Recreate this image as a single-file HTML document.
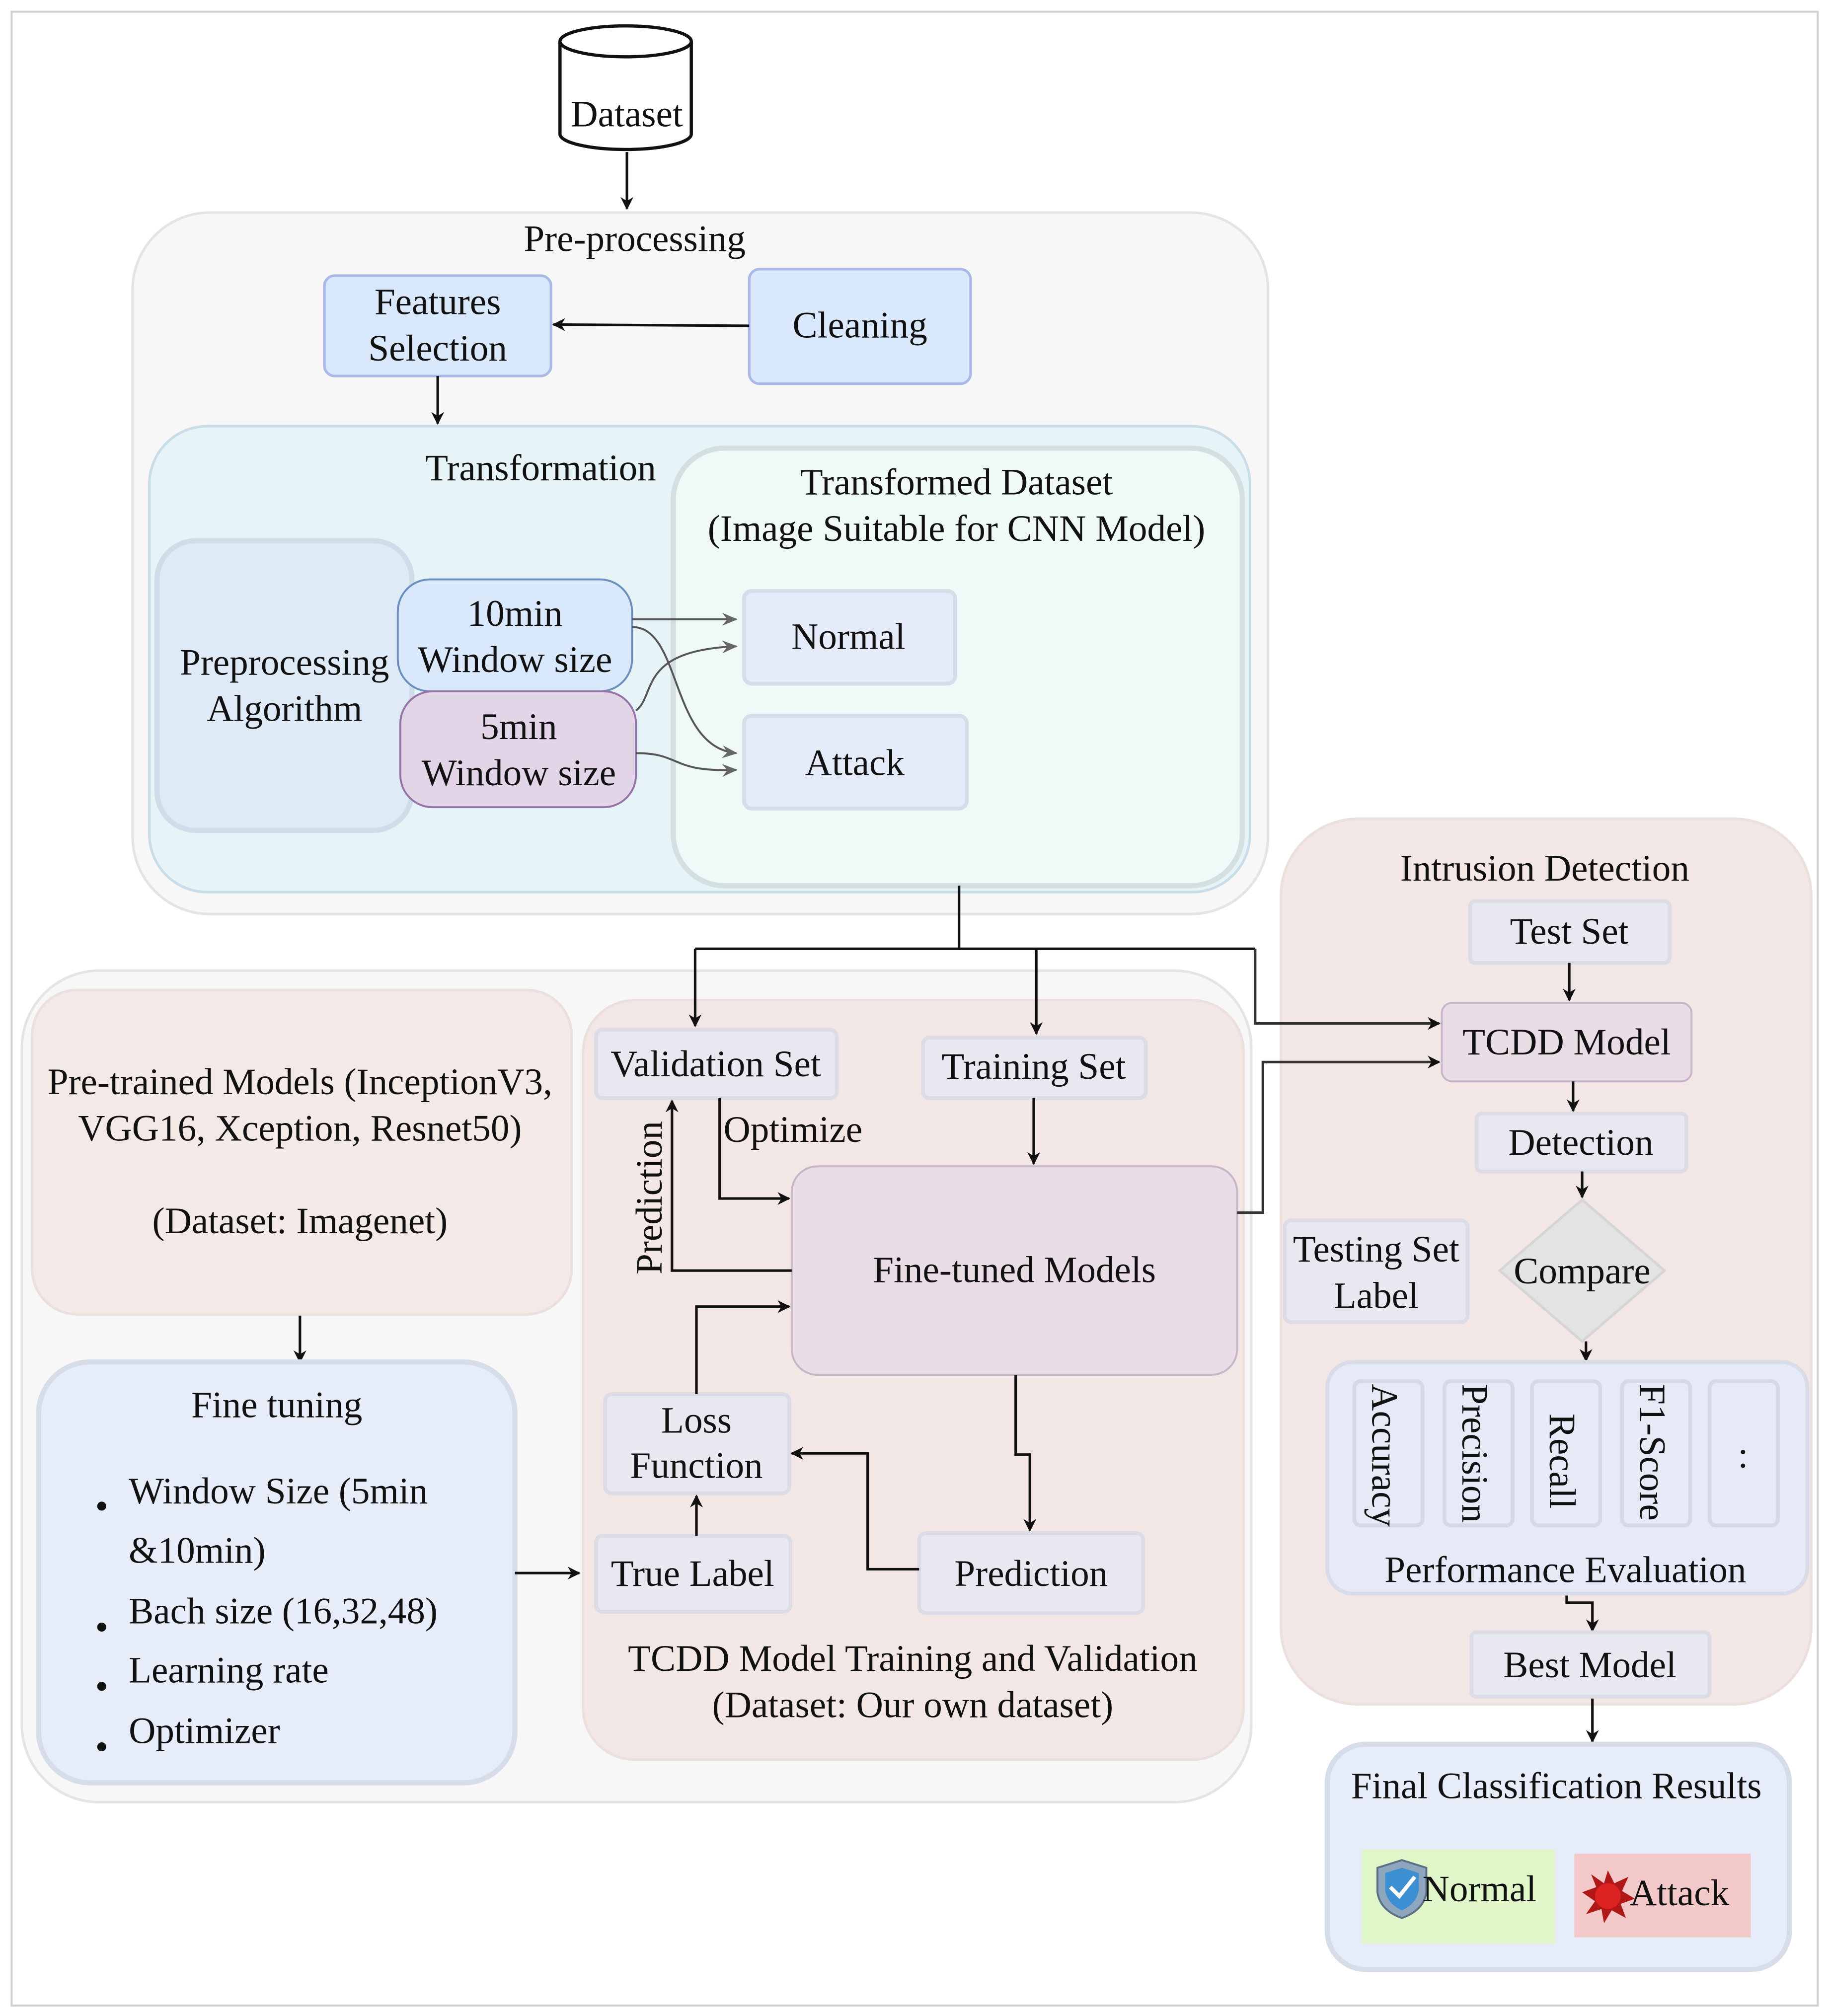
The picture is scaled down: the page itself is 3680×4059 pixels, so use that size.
<!DOCTYPE html>
<html><head><meta charset="utf-8"><style>
html,body{margin:0;padding:0;background:#fff;}
svg{display:block;}
text{font-family:"Liberation Serif",serif;font-size:29px;fill:#111;}
</style></head><body>
<svg width="3680" height="4059" viewBox="0 0 1420 1566" xmlns="http://www.w3.org/2000/svg">
<defs>
<marker id="a" markerWidth="10" markerHeight="10" refX="9" refY="5" orient="auto" markerUnits="userSpaceOnUse"><path d="M0,0 L10,5 L0,10 L3,5 z" fill="#111"/></marker>
<marker id="g" markerWidth="12" markerHeight="10" refX="11" refY="5" orient="auto" markerUnits="userSpaceOnUse"><path d="M0,0 L12,5 L0,10 L4,5 z" fill="#666"/></marker>
</defs>
<rect x="0" y="0" width="1420" height="1566" fill="#fff"/>
<rect x="9" y="9" width="1403" height="1549" fill="none" stroke="#cfcfcf" stroke-width="1.5"/>

<!-- Dataset cylinder -->
<path d="M435,32 L435,104 A51,12 0 0 0 537,104 L537,32" fill="#fff" stroke="#111" stroke-width="2.5"/>
<ellipse cx="486" cy="32" rx="51" ry="12" fill="#fff" stroke="#111" stroke-width="2.5"/>
<text x="487" y="98" text-anchor="middle">Dataset</text>
<line x1="487" y1="118" x2="487" y2="162" stroke="#111" stroke-width="2" marker-end="url(#a)"/>

<!-- Pre-processing -->
<rect x="103" y="165" width="882" height="545" rx="60" fill="#f7f7f7" stroke="#e4e4e4" stroke-width="2"/>
<text x="493" y="195" text-anchor="middle">Pre-processing</text>
<rect x="252" y="214" width="176" height="78" rx="8" fill="#dae8fc" stroke="#a9b8e8" stroke-width="2"/>
<text x="340" y="244" text-anchor="middle">Features</text>
<text x="340" y="280" text-anchor="middle">Selection</text>
<rect x="582" y="209" width="172" height="89" rx="8" fill="#dae8fc" stroke="#a9b8e8" stroke-width="2"/>
<text x="668" y="262" text-anchor="middle">Cleaning</text>
<line x1="582" y1="253" x2="430" y2="252" stroke="#111" stroke-width="2" marker-end="url(#a)"/>
<line x1="340" y1="292" x2="340" y2="329" stroke="#111" stroke-width="2" marker-end="url(#a)"/>

<!-- Transformation -->
<rect x="116" y="331" width="855" height="362" rx="45" fill="#e6f4f7" stroke="#c9dde8" stroke-width="2"/>
<text x="420" y="373" text-anchor="middle">Transformation</text>
<rect x="523" y="348" width="442" height="340" rx="40" fill="#eff9f7" stroke="#d3dfe0" stroke-width="4"/>
<text x="743" y="384" text-anchor="middle">Transformed Dataset</text>
<text x="743" y="420" text-anchor="middle">(Image Suitable for CNN Model)</text>
<rect x="122" y="420" width="198" height="225" rx="30" fill="#dfeaf7" stroke="#d0dce8" stroke-width="4"/>
<text x="221" y="524" text-anchor="middle">Preprocessing</text>
<text x="221" y="560" text-anchor="middle">Algorithm</text>
<rect x="309" y="450" width="182" height="87" rx="25" fill="#dae8fc" stroke="#6c8ebf" stroke-width="1.5"/>
<text x="400" y="486" text-anchor="middle">10min</text>
<text x="400" y="522" text-anchor="middle">Window size</text>
<rect x="311" y="537" width="183" height="90" rx="25" fill="#e1d5e7" stroke="#9673a6" stroke-width="1.5"/>
<text x="403" y="574" text-anchor="middle">5min</text>
<text x="403" y="610" text-anchor="middle">Window size</text>
<rect x="578" y="459" width="164" height="72" rx="6" fill="#e3ecf8" stroke="#d4dde8" stroke-width="3"/>
<text x="659" y="504" text-anchor="middle">Normal</text>
<rect x="578" y="556" width="173" height="72" rx="6" fill="#e3ecf8" stroke="#d4dde8" stroke-width="3"/>
<text x="664" y="602" text-anchor="middle">Attack</text>
<g fill="none" stroke="#555" stroke-width="1.5">
<path d="M491,481 L572,481" marker-end="url(#g)"/>
<path d="M491,487 C530,487 520,580 572,585" marker-end="url(#g)"/>
<path d="M494,552 C510,540 495,505 572,502" marker-end="url(#g)"/>
<path d="M494,585 C530,585 520,600 572,598" marker-end="url(#g)"/>
</g>

<!-- bottom-left container -->
<rect x="17" y="754" width="955" height="646" rx="60" fill="#f7f7f7" stroke="#e4e4e4" stroke-width="2"/>
<rect x="25" y="769" width="419" height="252" rx="35" fill="#f3e9e7" stroke="#ece0de" stroke-width="2"/>
<text x="233" y="850" text-anchor="middle">Pre-trained Models (InceptionV3,</text>
<text x="233" y="886" text-anchor="middle">VGG16, Xception, Resnet50)</text>
<text x="233" y="958" text-anchor="middle">(Dataset: Imagenet)</text>
<line x1="233" y1="1022" x2="233" y2="1058" stroke="#111" stroke-width="2" marker-end="url(#a)"/>
<rect x="30" y="1058" width="370" height="327" rx="40" fill="#e6edf8" stroke="#d6dde8" stroke-width="4"/>
<text x="215" y="1101" text-anchor="middle">Fine tuning</text>
<g>
<circle cx="79" cy="1170" r="3.5" fill="#111"/><text x="100" y="1168">Window Size   (5min</text>
<text x="100" y="1214">&amp;10min)</text>
<circle cx="79" cy="1264" r="3.5" fill="#111"/><text x="100" y="1261">Bach size (16,32,48)</text>
<circle cx="79" cy="1310" r="3.5" fill="#111"/><text x="100" y="1307">Learning rate</text>
<circle cx="79" cy="1357" r="3.5" fill="#111"/><text x="100" y="1354">Optimizer</text>
</g>
<line x1="400" y1="1222" x2="450" y2="1222" stroke="#111" stroke-width="2" marker-end="url(#a)"/>

<!-- TCDD training -->
<rect x="453" y="777" width="513" height="590" rx="40" fill="#f3e7e5" stroke="#ece0de" stroke-width="2"/>
<text x="709" y="1298" text-anchor="middle">TCDD Model Training and Validation</text>
<text x="709" y="1334" text-anchor="middle">(Dataset: Our own dataset)</text>
<rect x="463" y="800" width="187" height="53" rx="5" fill="#e8e8f1" stroke="#dcdce6" stroke-width="3"/>
<text x="556" y="836" text-anchor="middle">Validation Set</text>
<rect x="717" y="806" width="173" height="47" rx="5" fill="#e8e8f1" stroke="#dcdce6" stroke-width="3"/>
<text x="803" y="838" text-anchor="middle">Training Set</text>
<rect x="615" y="906" width="346" height="162" rx="20" fill="#e9dde6" stroke="#c8b5c8" stroke-width="1.5"/>
<text x="788" y="996" text-anchor="middle">Fine-tuned Models</text>
<rect x="470" y="1083" width="143" height="77" rx="5" fill="#e8e8f1" stroke="#dcdce6" stroke-width="3"/>
<text x="541" y="1113" text-anchor="middle">Loss</text>
<text x="541" y="1148" text-anchor="middle">Function</text>
<rect x="463" y="1193" width="151" height="59" rx="5" fill="#e8e8f1" stroke="#dcdce6" stroke-width="3"/>
<text x="538" y="1232" text-anchor="middle">True Label</text>
<rect x="714" y="1191" width="174" height="62" rx="5" fill="#e8e8f1" stroke="#dcdce6" stroke-width="3"/>
<text x="801" y="1232" text-anchor="middle">Prediction</text>
<text x="562" y="887">Optimize</text>
<text transform="translate(514,990) rotate(-90)">Prediction</text>
<g fill="none" stroke="#111" stroke-width="2">
<path d="M803,853 L803,904" marker-end="url(#a)"/>
<path d="M559,853 L559,931 L613,931" marker-end="url(#a)"/>
<path d="M615,987 L522,987 L522,855" marker-end="url(#a)"/>
<path d="M789,1068 L789,1130 L800,1130 L800,1189" marker-end="url(#a)"/>
<path d="M714,1219 L674,1219 L674,1129 L615,1129" marker-end="url(#a)"/>
<path d="M541,1193 L541,1162" marker-end="url(#a)"/>
<path d="M541,1083 L541,1015 L613,1015" marker-end="url(#a)"/>
</g>

<!-- Intrusion detection -->
<rect x="995" y="636" width="412" height="688" rx="60" fill="#f3e7e5" stroke="#ece0de" stroke-width="2"/>
<text x="1200" y="684" text-anchor="middle">Intrusion Detection</text>
<rect x="1142" y="700" width="155" height="48" rx="4" fill="#e8e8f1" stroke="#dcdce6" stroke-width="3"/>
<text x="1219" y="733" text-anchor="middle">Test Set</text>
<rect x="1120" y="779" width="194" height="61" rx="8" fill="#e9dde6" stroke="#c8b5c8" stroke-width="1.5"/>
<text x="1217" y="819" text-anchor="middle">TCDD Model</text>
<rect x="1147" y="865" width="163" height="45" rx="4" fill="#e8e8f1" stroke="#dcdce6" stroke-width="3"/>
<text x="1228" y="897" text-anchor="middle">Detection</text>
<polygon points="1229,932 1293,987 1229,1042 1165,987" fill="#e3e3e3" stroke="#d5d5d5" stroke-width="2"/>
<text x="1229" y="997" text-anchor="middle">Compare</text>
<rect x="998" y="948" width="142" height="79" rx="5" fill="#e8e8f1" stroke="#dcdce6" stroke-width="3"/>
<text x="1069" y="980" text-anchor="middle">Testing Set</text>
<text x="1069" y="1016" text-anchor="middle">Label</text>
<g fill="none" stroke="#111" stroke-width="2">
<path d="M1219,748 L1219,777" marker-end="url(#a)"/>
<path d="M1222,840 L1222,863" marker-end="url(#a)"/>
<path d="M1229,910 L1229,930" marker-end="url(#a)"/>
<path d="M1232,1042 L1232,1057" marker-end="url(#a)"/>
<path d="M1217,1238 L1217,1245 L1237,1245 L1237,1267" marker-end="url(#a)"/>
<path d="M1237,1318 L1237,1353" marker-end="url(#a)"/>
</g>
<rect x="1031" y="1058" width="373" height="180" rx="20" fill="#e6e9f6" stroke="#d8dbe8" stroke-width="3"/>
<g fill="#e6e9f6" stroke="#d5d8e6" stroke-width="3">
<rect x="1052" y="1073" width="53" height="112" rx="5"/>
<rect x="1122" y="1073" width="53" height="112" rx="5"/>
<rect x="1190" y="1073" width="53" height="112" rx="5"/>
<rect x="1260" y="1073" width="53" height="112" rx="5"/>
<rect x="1328" y="1073" width="53" height="112" rx="5"/>
</g>
<text transform="translate(1066,1075) rotate(90)">Accuracy</text>
<text transform="translate(1136,1075) rotate(90)">Precision</text>
<text transform="translate(1204,1098) rotate(90)">Recall</text>
<text transform="translate(1274,1075) rotate(90)">F1-Score</text>
<text x="1354" y="1140" text-anchor="middle">:</text>
<text x="1216" y="1229" text-anchor="middle">Performance Evaluation</text>
<rect x="1143" y="1268" width="185" height="50" rx="4" fill="#e8e8f1" stroke="#dcdce6" stroke-width="3"/>
<text x="1235" y="1303" text-anchor="middle">Best Model</text>

<!-- connectors on top -->
<g fill="none" stroke="#111" stroke-width="2">
<path d="M745,688 L745,737"/>
<path d="M540,737 L975,737"/>
<path d="M540,737 L540,797" marker-end="url(#a)"/>
<path d="M805,737 L805,803" marker-end="url(#a)"/>
<path d="M975,737 L975,795 L1118,795" stroke="#333" marker-end="url(#a)"/>
<path d="M961,942 L981,942 L981,825 L1118,825" stroke="#333" marker-end="url(#a)"/>
</g>

<!-- Final -->
<rect x="1031" y="1355" width="359" height="175" rx="30" fill="#e6edf8" stroke="#d6dde8" stroke-width="4"/>
<text x="1209" y="1397" text-anchor="middle">Final Classification Results</text>
<rect x="1058" y="1437" width="150" height="73" fill="#e0f5c8"/>
<path d="M1089,1445 L1108,1451 L1108,1470 Q1106,1484 1089,1490 Q1072,1484 1070,1470 L1070,1451 z" fill="#8fa6bf" stroke="#5a6f86" stroke-width="1.5"/>
<path d="M1089,1451 L1102,1455 L1102,1469 Q1100,1479 1089,1484 Q1078,1479 1076,1469 L1076,1455 z" fill="#3c8fd0"/>
<path d="M1080,1466 L1087,1473 L1099,1458" fill="none" stroke="#fff" stroke-width="3"/>
<text x="1105" y="1477">Normal</text>
<rect x="1223" y="1440" width="137" height="65" fill="#f2c8c8"/>
<g transform="translate(1249,1473)">
<polygon points="0,-20 5,-10 16,-15 11,-4 21,2 10,6 14,17 3,11 -3,21 -5,10 -17,14 -10,4 -20,-3 -9,-7 -13,-17 -3,-10" fill="#b01818"/>
<circle r="10" fill="#d22"/>
</g>
<text x="1266" y="1480">Attack</text>
</svg>
</body></html>
